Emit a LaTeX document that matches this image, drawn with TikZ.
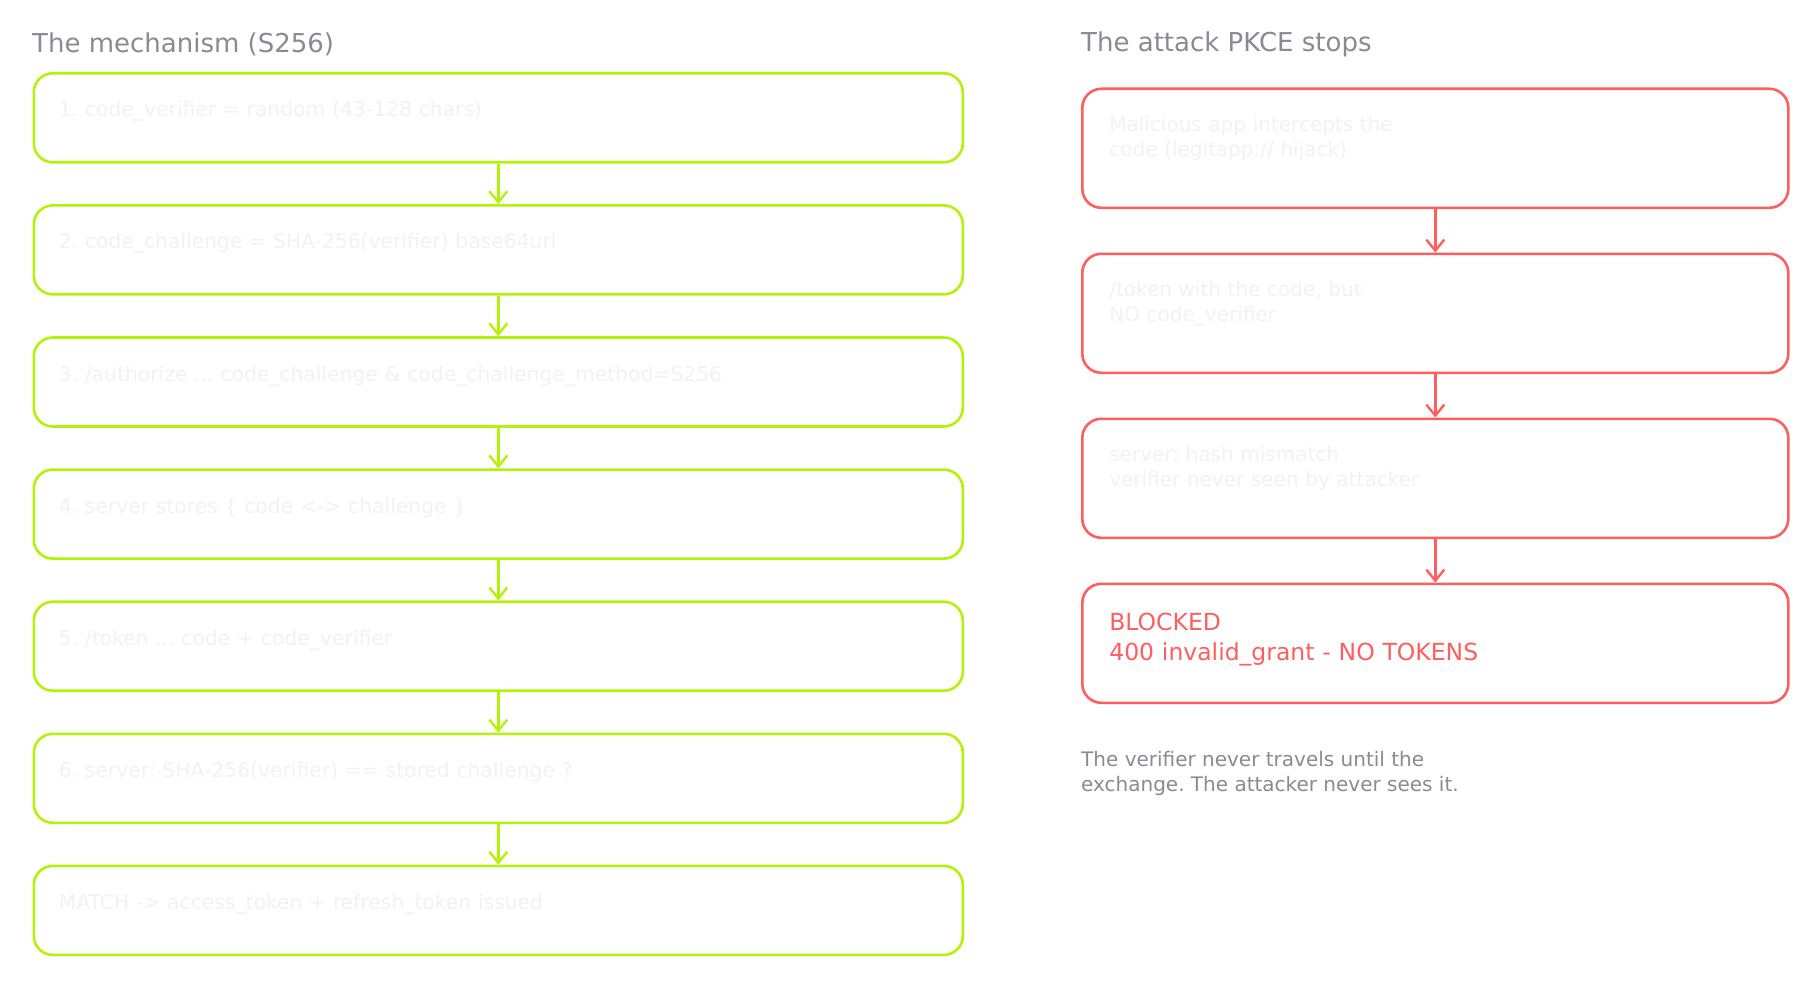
\documentclass[tikz,border=0pt]{standalone}
\usepackage{fontspec}
\setmainfont{DejaVu Sans}
\usepackage{xcolor}
\usetikzlibrary{arrows.meta,positioning}
\definecolor{limeline}{HTML}{B4F20A}
\definecolor{alertred}{HTML}{FF5E5E}
\definecolor{captiongray}{HTML}{8A8A94}
\definecolor{ghosttext}{HTML}{F2F2F2}
\frenchspacing
\tikzset{
  stepbox/.style={draw=limeline, line width=2.6pt, rounded corners=19pt, minimum width=929pt, minimum height=89pt, inner xsep=25pt, text width=879pt, align=left, font=\fontsize{20.3}{24}\selectfont, text=ghosttext, text height=14pt, text depth=16pt},
  attackbox/.style={draw=alertred, line width=2.6pt, rounded corners=19pt, minimum width=706pt, minimum height=119pt, inner xsep=27pt, text width=652pt, align=left, font=\fontsize{20}{25}\selectfont, text=ghosttext, text depth=48pt},
  stepflow/.style={-{Straight Barb[length=11pt,width=18pt]}, draw=limeline, line width=2.4pt},
  attackflow/.style={-{Straight Barb[length=11pt,width=18pt]}, draw=alertred, line width=2.4pt},
  headline/.style={font=\fontsize{26}{30}\selectfont, text=captiongray, anchor=west, inner sep=0pt},
  sidenote/.style={font=\fontsize{20}{25.5}\selectfont, text=captiongray, align=left, anchor=north west, inner sep=0pt}
}

\begin{document}
\begin{tikzpicture}[x=1pt, y=-1pt, node distance=40.5pt]
  \fill[white] (0,0) rectangle (1819,987);
  \useasboundingbox (0,0) rectangle (1819,987);

  % left column: the mechanism
  \node[headline] (mechtitle) at (32,44) {The mechanism (S256)};
  \node[stepbox, anchor=north west] (mech1) at (32.5,72) {1. code\_verifier = random (43-128 chars)};
  \node[stepbox, below=of mech1] (mech2) {2. code\_challenge = SHA-256(verifier) base64url};
  \node[stepbox, below=of mech2] (mech3) {3. /authorize ... code\_challenge \& code\_challenge\_method=S256};
  \node[stepbox, below=of mech3] (mech4) {4. server stores \{ code <-> challenge \}};
  \node[stepbox, below=of mech4] (mech5) {5. /token ... code + code\_verifier};
  \node[stepbox, below=of mech5] (mech6) {6. server: SHA-256(verifier) == stored challenge ?};
  \node[stepbox, below=of mech6] (mech7) {MATCH -> access\_token + refresh\_token issued};
  \foreach \a/\b in {mech1/mech2, mech2/mech3, mech3/mech4, mech4/mech5, mech5/mech6, mech6/mech7}
    \draw[stepflow] (\a) -- (\b);

  % right column: the attack
  \node[headline] (attacktitle) at (1081,44) {The attack PKCE stops};
  \node[attackbox, anchor=north west] (attack1) at (1081,87.5) {Malicious app intercepts the\\code (legitapp:// hijack)};
  \node[attackbox, below=43.4pt of attack1] (attack2) {/token with the code, but\\NO code\_verifier};
  \node[attackbox, below=43.4pt of attack2] (attack3) {server: hash mismatch\\verifier never seen by attacker};
  \node[attackbox, below=43.4pt of attack3, text=alertred, font=\fontsize{23.5}{30}\selectfont, text depth=43pt] (blocked) {BLOCKED\\400 invalid\_grant - NO TOKENS};
  \foreach \a/\b in {attack1/attack2, attack2/attack3, attack3/blocked}
    \draw[attackflow] (\a) -- (\b);

  \node[sidenote] (verifiernote) at (1081,751) {The verifier never travels until the\\exchange. The attacker never sees it.};
\end{tikzpicture}
\end{document}
